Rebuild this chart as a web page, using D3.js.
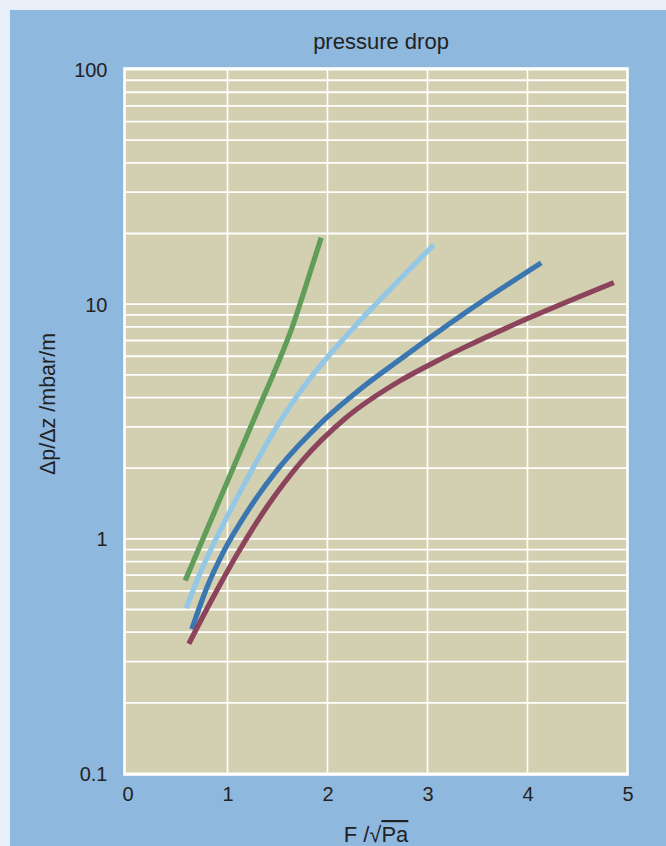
<!DOCTYPE html>
<html>
<head>
<meta charset="utf-8">
<script src="https://cdn.jsdelivr.net/npm/d3@7"></script>
<style>
  html, body { margin: 0; padding: 0; background: #e8eff8; }
  svg { display: block; }
  text { font-family: "Liberation Sans", Arial, sans-serif; fill: #222; }
</style>
</head>
<body>
<script>
// ---- data ----
const xTicks = [0, 1, 2, 3, 4, 5];
const yTickValues = [0.1, 1, 10, 100];
const yTickLabels = ["0.1", "1", "10", "100"];

const greenX = [0.577, 0.703, 1.0, 1.3, 1.55, 1.65, 1.787, 1.937];
const greenY = [0.664, 0.887, 1.76, 3.51, 6.24, 8.04, 12.1, 19.2];

const lightX = [0.587, 0.7, 0.82, 1.1, 1.537, 1.753, 2.037, 2.32, 2.72, 3.063];
const lightY = [0.506, 0.673, 0.875, 1.51, 3.22, 4.39, 6.21, 8.45, 12.72, 17.9];

const blueX = [0.643, 0.787, 0.953, 1.2, 1.5, 1.97, 2.32, 2.72, 3.053, 3.387, 4.137];
const blueY = [0.412, 0.61, 0.869, 1.31, 1.97, 3.22, 4.32, 5.79, 7.35, 9.25, 15.0];

const maroonX = [0.613, 0.737, 0.92, 1.093, 1.4, 1.75, 2.17, 2.72, 3.053, 3.387, 4.003, 4.863];
const maroonY = [0.357, 0.452, 0.632, 0.855, 1.38, 2.16, 3.24, 4.7, 5.61, 6.6, 8.69, 12.36];

const seriesColors = ["#5f9d59", "#93c7e5", "#3a76b0", "#8c435c"];

const titleText = "pressure drop";
const yTitle = "Δp/Δz /mbar/m";

// ---- layout ----
const W = 666, H = 846;
const svg = d3.select("body").append("svg").attr("width", W).attr("height", H);

svg.append("rect").attr("x", 10).attr("y", 10).attr("width", W - 10).attr("height", H - 10).attr("fill", "#8fb8df");

const x = d3.scaleLinear().domain([0, 5]).range([127.5, 627.5]);
const y = d3.scaleLog().domain([0.1, 100]).range([773.5, 69.5]);

// plot background
svg.append("rect")
  .attr("x", x(0) - 3).attr("y", y(100))
  .attr("width", x(5) - x(0) + 3).attr("height", y(0.1) - y(100))
  .attr("fill", "#d3cfb1");

// horizontal grid (major + minor)
const yGrid = [];
[0.1, 1, 10].forEach(d => { for (let k = 1; k <= 9; k++) yGrid.push(d * k); });
yGrid.push(100);
svg.append("g").selectAll("line").data(yGrid).join("line")
  .attr("x1", x(0) - 3).attr("x2", x(5))
  .attr("y1", d => y(d)).attr("y2", d => y(d))
  .attr("stroke", "#ffffff").attr("stroke-width", 1.8);

// vertical grid
svg.append("g").selectAll("line").data(xTicks.slice(1, -1)).join("line")
  .attr("x1", d => x(d)).attr("x2", d => x(d))
  .attr("y1", y(100)).attr("y2", y(0.1))
  .attr("stroke", "#ffffff").attr("stroke-width", 1.6);

// frame
svg.append("rect")
  .attr("x", x(0) - 3).attr("y", y(100) - 1)
  .attr("width", x(5) - x(0) + 3).attr("height", y(0.1) - y(100) + 2)
  .attr("fill", "none").attr("stroke", "#ffffff").attr("stroke-width", 2.6);

// curves
const series = [
  greenX.map((v, i) => [v, greenY[i]]),
  lightX.map((v, i) => [v, lightY[i]]),
  blueX.map((v, i) => [v, blueY[i]]),
  maroonX.map((v, i) => [v, maroonY[i]])
];
const line = d3.line().x(d => x(d[0])).y(d => y(d[1])).curve(d3.curveMonotoneX);
svg.append("g").selectAll("path").data(series).join("path")
  .attr("d", line)
  .attr("fill", "none")
  .attr("stroke", (d, i) => seriesColors[i])
  .attr("stroke-width", 5.2);

// y axis labels
const yAxis = d3.axisLeft(y).tickValues(yTickValues).tickFormat((d, i) => yTickLabels[i]).tickSize(0).tickPadding(17);
const gy = svg.append("g").attr("transform", `translate(${x(0) - 3},0)`).call(yAxis);
gy.select(".domain").remove();
gy.selectAll("text").style("font-size", "20px").attr("fill", "#222").attr("dy", "0.35em");

// x axis labels
const xAxis = d3.axisBottom(x).tickValues(xTicks).tickFormat(d3.format("d")).tickSize(0).tickPadding(13);
const gx = svg.append("g").attr("transform", `translate(0,${y(0.1)})`).call(xAxis);
gx.select(".domain").remove();
gx.selectAll("text").style("font-size", "20px").attr("fill", "#222");

// titles
svg.append("text").attr("x", 381).attr("y", 49).attr("text-anchor", "middle")
  .style("font-size", "22px").text(titleText);

const xt = svg.append("text").attr("x", 376).attr("y", 842).attr("text-anchor", "middle")
  .style("font-size", "22px");
xt.append("tspan").text("F /√");
xt.append("tspan").style("text-decoration", "overline").text("Pa");

svg.append("text").attr("transform", "translate(55,404) rotate(-90)").attr("text-anchor", "middle")
  .style("font-size", "21.5px").text(yTitle);
</script>
</body>
</html>
